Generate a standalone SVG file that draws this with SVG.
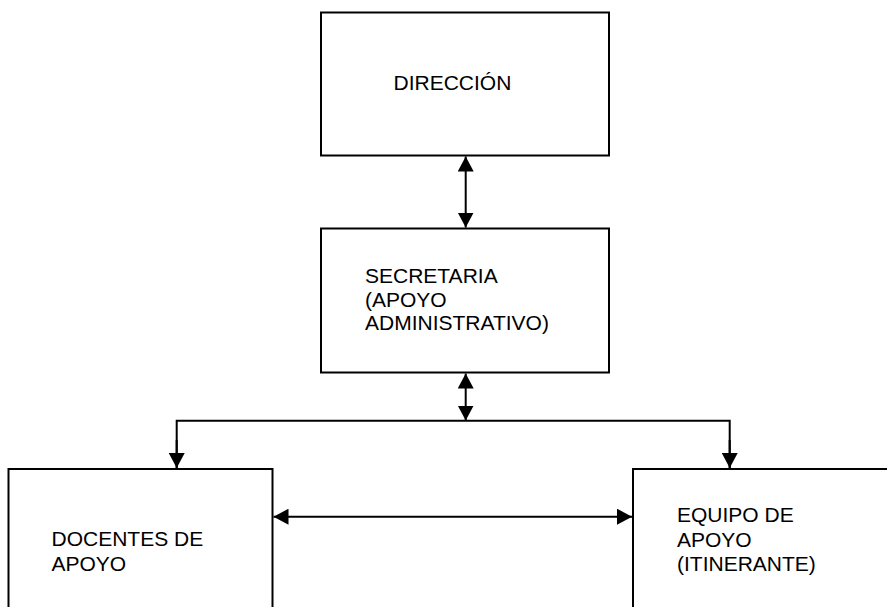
<svg xmlns="http://www.w3.org/2000/svg" width="887" height="607" viewBox="0 0 887 607">
<defs>
<style>
.box{fill:#fff;stroke:#000;stroke-width:2}
.lbl{font-family:"Liberation Sans",Arial,sans-serif;font-size:21px;fill:#000}
.ln{fill:none;stroke:#000;stroke-width:2}
</style>
<marker id="ah" viewBox="0 0 15 16" refX="15" refY="8" markerWidth="15" markerHeight="16" markerUnits="userSpaceOnUse" orient="auto-start-reverse">
<path d="M0,0 L15,8 L0,16 Z" fill="#000"/>
</marker>
</defs>
<rect width="887" height="607" fill="#fff"/>
<g id="direccion">
<rect class="box" x="321" y="12.5" width="288" height="143"/>
<text class="lbl" x="393.5" y="90">DIRECCIÓN</text>
</g>
<g id="secretaria">
<rect class="box" x="321" y="228.5" width="288" height="144"/>
<text class="lbl" x="365" y="283">SECRETARIA</text>
<text class="lbl" x="365" y="306.5">(APOYO</text>
<text class="lbl" x="365" y="330">ADMINISTRATIVO)</text>
</g>
<g id="docentes">
<rect class="box" x="8.5" y="469" width="264" height="150"/>
<text class="lbl" x="51.5" y="546">DOCENTES DE</text>
<text class="lbl" x="51.5" y="570.5">APOYO</text>
</g>
<g id="equipo">
<rect class="box" x="633" y="469" width="270" height="150"/>
<text class="lbl" x="677" y="522">EQUIPO DE</text>
<text class="lbl" x="677" y="546.5">APOYO</text>
<text class="lbl" x="677" y="571">(ITINERANTE)</text>
</g>
<g id="connectors">
<line class="ln" x1="465.7" y1="156.5" x2="465.7" y2="227.5" marker-start="url(#ah)" marker-end="url(#ah)"/>
<line class="ln" x1="465.7" y1="373.5" x2="465.7" y2="420.5" marker-start="url(#ah)" marker-end="url(#ah)"/>
<polyline class="ln" points="176.7,468 176.7,420.7 729.7,420.7 729.7,468" />
<line class="ln" x1="176.7" y1="440" x2="176.7" y2="468" marker-end="url(#ah)"/>
<line class="ln" x1="729.7" y1="440" x2="729.7" y2="468" marker-end="url(#ah)"/>
<line class="ln" x1="273.5" y1="516.7" x2="632" y2="516.7" marker-start="url(#ah)" marker-end="url(#ah)"/>
</g>
</svg>
